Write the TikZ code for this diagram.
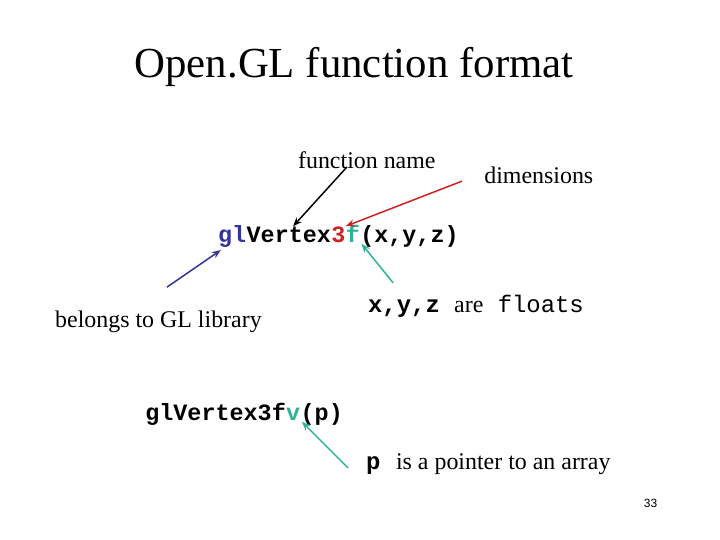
\documentclass[tikz,border=0pt]{standalone}
\usepackage{fontspec}
\setmainfont{Liberation Serif}
\setmonofont{Liberation Mono}
\setsansfont{Liberation Sans}
\usepackage{xcolor}
\usetikzlibrary{arrows.meta,positioning,calc}

\definecolor{glblue}{HTML}{333399}
\definecolor{dimred}{HTML}{CC2222}
\definecolor{fteal}{HTML}{2EB398}

\begin{document}
\begin{tikzpicture}[
    >={Stealth[length=9pt,width=7pt]},
    label/.style={
        font=\fontsize{24}{28}\selectfont,
        inner sep=0pt,
        anchor=base west
    },
    code/.style={
        font=\fontsize{23.5}{28}\selectfont\ttfamily\bfseries,
        inner sep=0pt,
        anchor=base west
    },
    arr/.style={->, line width=1.5pt}
]

\useasboundingbox (0,0) rectangle (25.4,-19.05);

\node[font=\fontsize{43}{50}\selectfont, anchor=base] (title) at (12.49,-2.75) {Open.GL function format};

% labels
\node[label] (fname) at (10.51,-5.93) {function name};
\node[label] (dims) at (17.08,-6.46) {dimensions};
\node[label] (lib) at (1.94,-11.54) {belongs to GL library};
\node[label] (floats) at (12.98,-11.01)
{{\ttfamily\bfseries x,y,z}\hspace{0.35em} are\hspace{0.35em} {\ttfamily floats}};
\node[label] (ptr) at (12.91,-16.55)
{{\ttfamily\bfseries p}\hspace{0.4em} is a pointer to an array};

% first call, one node per part
\node[code, text=glblue] (gl) at (7.69,-8.54) {gl};
\node[code] (vtx) at (gl.base east) {Vertex};
\node[code, text=dimred] (three) at (vtx.base east) {3};
\node[code, text=fteal] (ff) at (three.base east) {f};
\node[code] (args) at (ff.base east) {(x,y,z)};

% second call
\node[code] (gl2) at (5.12,-14.82) {glVertex3f};
\node[code, text=fteal] (vv) at (gl2.base east) {v};
\node[code] (args2) at (vv.base east) {(p)};

\node[font=\fontsize{12}{14}\selectfont\sffamily, anchor=base] (page) at (22.95,-17.9) {33};

% free ends of the arrows
\coordinate (fnTail) at (12.24,-5.89);
\coordinate (dimTail) at (16.30,-6.39);
\coordinate (libTail) at (5.89,-10.13);
\coordinate (flTail) at (13.87,-9.98);
\coordinate (ptrTail) at (12.28,-16.51);

\draw[arr] (fnTail) -- ($(vtx.north)+(0.15,0)$);
\draw[arr, dimred] (dimTail) -- (three.north east);
\draw[arr, glblue] (libTail) -- ($(gl.south west)+(0.1,-0.1)$);
\draw[arr, fteal] (flTail) -- ($(ff.south east)+(0.05,-0.05)$);
\draw[arr, fteal] (ptrTail) -- ($(vv.south east)+(0.05,-0.05)$);

\end{tikzpicture}
\end{document}
